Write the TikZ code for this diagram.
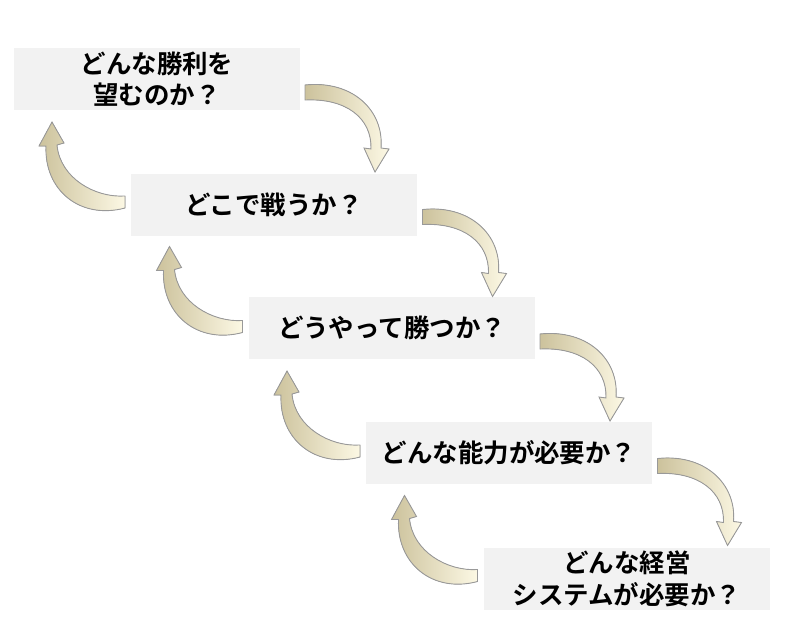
\documentclass[tikz,border=0pt]{standalone}
\usepackage{fontspec}
\newfontfamily\jpfont{Noto Sans CJK JP Bold}
\usetikzlibrary{positioning}
\definecolor{boxgray}{RGB}{242,242,242}
\definecolor{ribbondark}{RGB}{204,194,156}
\definecolor{ribbonlight}{RGB}{252,248,228}
\tikzset{
  stepbox/.style={fill=boxgray, minimum width=286*0.02cm, minimum height=62*0.02cm,
    font=\jpfont\fontsize{14.5}{18}\selectfont, align=center, inner sep=0pt},
  ribbon/.style={draw=gray!80, line width=0.5pt, left color=ribbondark, right color=ribbonlight}
}
\begin{document}
\begin{tikzpicture}[x=0.02cm,y=-0.02cm]
    \useasboundingbox (0,0) rectangle (800,643);

    % question boxes
    \node[stepbox] (q1) at (157,79)  {どんな勝利を\\望むのか？};
    \node[stepbox] (q2) at (274,205) {どこで戦うか？};
    \node[stepbox] (q3) at (392,328) {どうやって勝つか？};
    \node[stepbox] (q4) at (509,453) {どんな能力が必要か？};
    \node[stepbox] (q5) at (627,579) {どんな経営\\システムが必要か？};

    % curved arrows between the boxes
    \foreach \k in {0,...,3}{
        \begin{scope}[shift={(117.5*\k,124.5*\k)}]
        \fill[ribbon] (305,85) .. controls (352,80) and (384,110) .. (381,148)
            -- (389,149) -- (375,172) -- (364,148) -- (371,149)
            .. controls (372,118) and (346,98) .. (305,100) -- cycle;
        \fill[ribbon] (125,208) .. controls (80,220) and (44,190) .. (46,146)
            -- (39,146) -- (52,122) -- (64,143) -- (57,145)
            .. controls (60,178) and (95,198) .. (125,196) -- cycle;
        \end{scope}
    }
\end{tikzpicture}
\end{document}
